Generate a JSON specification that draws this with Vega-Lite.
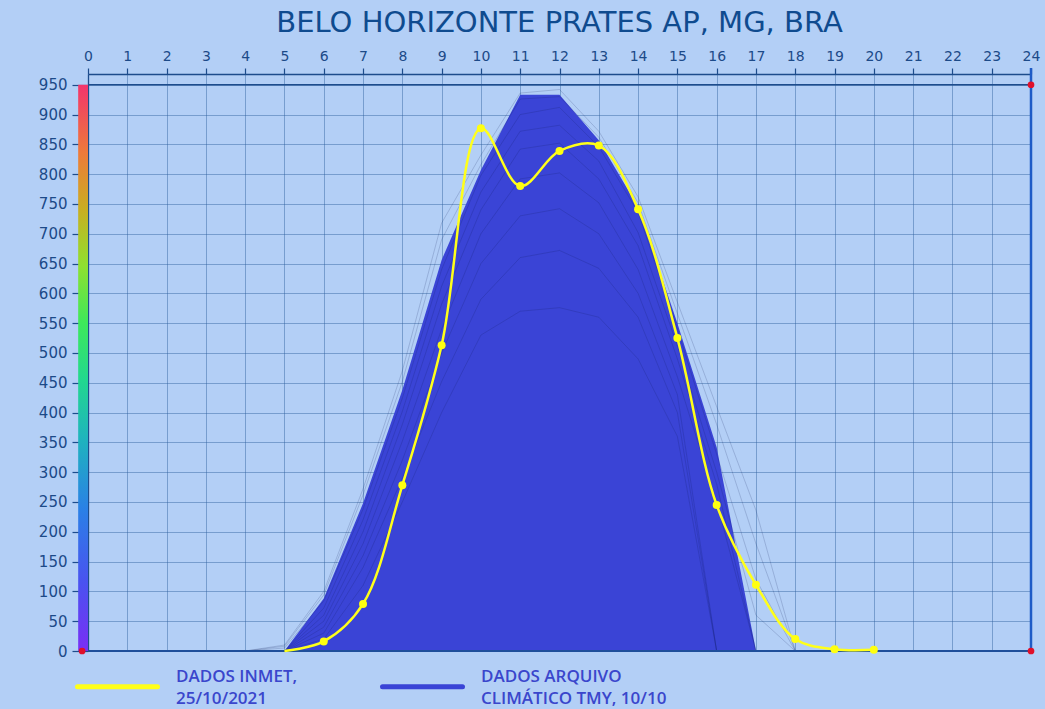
{
  "$schema": "https://vega.github.io/schema/vega-lite/v6.json",
  "width": 943,
  "height": 577,
  "autosize": {"type": "none"},
  "padding": {"left": 88, "top": 74, "right": 14, "bottom": 58},
  "background": "#b3cff6",
  "title": {
    "text": "BELO HORIZONTE PRATES AP, MG, BRA",
    "anchor": "middle",
    "frame": "group",
    "offset": 11,
    "font": "DejaVu Sans",
    "fontSize": 29,
    "fontWeight": "normal",
    "color": "#0f4b8f"
  },
  "datasets": {
    "envelope": [
      {"hour": 4, "ghi": 0, "series": "DADOS ARQUIVO CLIMÁTICO TMY, 10/10"},
      {"hour": 5, "ghi": 0, "series": "DADOS ARQUIVO CLIMÁTICO TMY, 10/10"},
      {"hour": 6, "ghi": 88, "series": "DADOS ARQUIVO CLIMÁTICO TMY, 10/10"},
      {"hour": 7, "ghi": 248, "series": "DADOS ARQUIVO CLIMÁTICO TMY, 10/10"},
      {"hour": 8, "ghi": 438, "series": "DADOS ARQUIVO CLIMÁTICO TMY, 10/10"},
      {"hour": 9, "ghi": 656, "series": "DADOS ARQUIVO CLIMÁTICO TMY, 10/10"},
      {"hour": 10, "ghi": 807, "series": "DADOS ARQUIVO CLIMÁTICO TMY, 10/10"},
      {"hour": 11, "ghi": 933, "series": "DADOS ARQUIVO CLIMÁTICO TMY, 10/10"},
      {"hour": 12, "ghi": 933, "series": "DADOS ARQUIVO CLIMÁTICO TMY, 10/10"},
      {"hour": 13, "ghi": 857, "series": "DADOS ARQUIVO CLIMÁTICO TMY, 10/10"},
      {"hour": 14, "ghi": 745, "series": "DADOS ARQUIVO CLIMÁTICO TMY, 10/10"},
      {"hour": 15, "ghi": 550, "series": "DADOS ARQUIVO CLIMÁTICO TMY, 10/10"},
      {"hour": 16, "ghi": 342, "series": "DADOS ARQUIVO CLIMÁTICO TMY, 10/10"},
      {"hour": 17, "ghi": 0, "series": "DADOS ARQUIVO CLIMÁTICO TMY, 10/10"}
    ],
    "days": [
      {"day": 1, "hour": 4, "ghi": 0}, {"day": 1, "hour": 5, "ghi": 10}, {"day": 1, "hour": 6, "ghi": 100}, {"day": 1, "hour": 7, "ghi": 272}, {"day": 1, "hour": 8, "ghi": 470}, {"day": 1, "hour": 9, "ghi": 718}, {"day": 1, "hour": 10, "ghi": 832}, {"day": 1, "hour": 11, "ghi": 936}, {"day": 1, "hour": 12, "ghi": 942}, {"day": 1, "hour": 13, "ghi": 872}, {"day": 1, "hour": 14, "ghi": 762}, {"day": 1, "hour": 15, "ghi": 585}, {"day": 1, "hour": 16, "ghi": 410}, {"day": 1, "hour": 17, "ghi": 236}, {"day": 1, "hour": 18, "ghi": 0},
      {"day": 2, "hour": 4, "ghi": 0}, {"day": 2, "hour": 5, "ghi": 8}, {"day": 2, "hour": 6, "ghi": 94}, {"day": 2, "hour": 7, "ghi": 262}, {"day": 2, "hour": 8, "ghi": 452}, {"day": 2, "hour": 9, "ghi": 690}, {"day": 2, "hour": 10, "ghi": 816}, {"day": 2, "hour": 11, "ghi": 926}, {"day": 2, "hour": 12, "ghi": 930}, {"day": 2, "hour": 13, "ghi": 862}, {"day": 2, "hour": 14, "ghi": 752}, {"day": 2, "hour": 15, "ghi": 566}, {"day": 2, "hour": 16, "ghi": 380}, {"day": 2, "hour": 17, "ghi": 180}, {"day": 2, "hour": 18, "ghi": 0},
      {"day": 3, "hour": 4, "ghi": 0}, {"day": 3, "hour": 5, "ghi": 5}, {"day": 3, "hour": 6, "ghi": 84}, {"day": 3, "hour": 7, "ghi": 238}, {"day": 3, "hour": 8, "ghi": 424}, {"day": 3, "hour": 9, "ghi": 640}, {"day": 3, "hour": 10, "ghi": 798}, {"day": 3, "hour": 11, "ghi": 900}, {"day": 3, "hour": 12, "ghi": 912}, {"day": 3, "hour": 13, "ghi": 846}, {"day": 3, "hour": 14, "ghi": 736}, {"day": 3, "hour": 15, "ghi": 540}, {"day": 3, "hour": 16, "ghi": 330}, {"day": 3, "hour": 17, "ghi": 120}, {"day": 3, "hour": 18, "ghi": 0},
      {"day": 4, "hour": 4, "ghi": 0}, {"day": 4, "hour": 5, "ghi": 0}, {"day": 4, "hour": 6, "ghi": 72}, {"day": 4, "hour": 7, "ghi": 220}, {"day": 4, "hour": 8, "ghi": 402}, {"day": 4, "hour": 9, "ghi": 612}, {"day": 4, "hour": 10, "ghi": 770}, {"day": 4, "hour": 11, "ghi": 872}, {"day": 4, "hour": 12, "ghi": 882}, {"day": 4, "hour": 13, "ghi": 822}, {"day": 4, "hour": 14, "ghi": 702}, {"day": 4, "hour": 15, "ghi": 512}, {"day": 4, "hour": 16, "ghi": 300}, {"day": 4, "hour": 17, "ghi": 60}, {"day": 4, "hour": 18, "ghi": 0},
      {"day": 5, "hour": 4, "ghi": 0}, {"day": 5, "hour": 5, "ghi": 0}, {"day": 5, "hour": 6, "ghi": 60}, {"day": 5, "hour": 7, "ghi": 200}, {"day": 5, "hour": 8, "ghi": 380}, {"day": 5, "hour": 9, "ghi": 582}, {"day": 5, "hour": 10, "ghi": 740}, {"day": 5, "hour": 11, "ghi": 842}, {"day": 5, "hour": 12, "ghi": 852}, {"day": 5, "hour": 13, "ghi": 792}, {"day": 5, "hour": 14, "ghi": 680}, {"day": 5, "hour": 15, "ghi": 490}, {"day": 5, "hour": 16, "ghi": 280}, {"day": 5, "hour": 17, "ghi": 0},
      {"day": 6, "hour": 4, "ghi": 0}, {"day": 6, "hour": 5, "ghi": 0}, {"day": 6, "hour": 6, "ghi": 50}, {"day": 6, "hour": 7, "ghi": 180}, {"day": 6, "hour": 8, "ghi": 352}, {"day": 6, "hour": 9, "ghi": 540}, {"day": 6, "hour": 10, "ghi": 700}, {"day": 6, "hour": 11, "ghi": 792}, {"day": 6, "hour": 12, "ghi": 802}, {"day": 6, "hour": 13, "ghi": 752}, {"day": 6, "hour": 14, "ghi": 640}, {"day": 6, "hour": 15, "ghi": 460}, {"day": 6, "hour": 16, "ghi": 250}, {"day": 6, "hour": 17, "ghi": 0},
      {"day": 7, "hour": 4, "ghi": 0}, {"day": 7, "hour": 5, "ghi": 0}, {"day": 7, "hour": 6, "ghi": 40}, {"day": 7, "hour": 7, "ghi": 160}, {"day": 7, "hour": 8, "ghi": 320}, {"day": 7, "hour": 9, "ghi": 500}, {"day": 7, "hour": 10, "ghi": 650}, {"day": 7, "hour": 11, "ghi": 730}, {"day": 7, "hour": 12, "ghi": 742}, {"day": 7, "hour": 13, "ghi": 700}, {"day": 7, "hour": 14, "ghi": 600}, {"day": 7, "hour": 15, "ghi": 430}, {"day": 7, "hour": 16, "ghi": 0},
      {"day": 8, "hour": 4, "ghi": 0}, {"day": 8, "hour": 5, "ghi": 0}, {"day": 8, "hour": 6, "ghi": 30}, {"day": 8, "hour": 7, "ghi": 140}, {"day": 8, "hour": 8, "ghi": 290}, {"day": 8, "hour": 9, "ghi": 452}, {"day": 8, "hour": 10, "ghi": 590}, {"day": 8, "hour": 11, "ghi": 660}, {"day": 8, "hour": 12, "ghi": 672}, {"day": 8, "hour": 13, "ghi": 642}, {"day": 8, "hour": 14, "ghi": 560}, {"day": 8, "hour": 15, "ghi": 400}, {"day": 8, "hour": 16, "ghi": 0},
      {"day": 9, "hour": 4, "ghi": 0}, {"day": 9, "hour": 5, "ghi": 0}, {"day": 9, "hour": 6, "ghi": 20}, {"day": 9, "hour": 7, "ghi": 110}, {"day": 9, "hour": 8, "ghi": 250}, {"day": 9, "hour": 9, "ghi": 400}, {"day": 9, "hour": 10, "ghi": 530}, {"day": 9, "hour": 11, "ghi": 570}, {"day": 9, "hour": 12, "ghi": 576}, {"day": 9, "hour": 13, "ghi": 560}, {"day": 9, "hour": 14, "ghi": 490}, {"day": 9, "hour": 15, "ghi": 360}, {"day": 9, "hour": 16, "ghi": 0}
    ],
    "inmet": [
      {"hour": 5, "ghi": 0, "series": "DADOS INMET, 25/10/2021"},
      {"hour": 6, "ghi": 16, "series": "DADOS INMET, 25/10/2021"},
      {"hour": 7, "ghi": 79, "series": "DADOS INMET, 25/10/2021"},
      {"hour": 8, "ghi": 278, "series": "DADOS INMET, 25/10/2021"},
      {"hour": 9, "ghi": 513, "series": "DADOS INMET, 25/10/2021"},
      {"hour": 10, "ghi": 877, "series": "DADOS INMET, 25/10/2021"},
      {"hour": 11, "ghi": 780, "series": "DADOS INMET, 25/10/2021"},
      {"hour": 12, "ghi": 839, "series": "DADOS INMET, 25/10/2021"},
      {"hour": 13, "ghi": 848, "series": "DADOS INMET, 25/10/2021"},
      {"hour": 14, "ghi": 741, "series": "DADOS INMET, 25/10/2021"},
      {"hour": 15, "ghi": 525, "series": "DADOS INMET, 25/10/2021"},
      {"hour": 16, "ghi": 245, "series": "DADOS INMET, 25/10/2021"},
      {"hour": 17, "ghi": 111, "series": "DADOS INMET, 25/10/2021"},
      {"hour": 18, "ghi": 20, "series": "DADOS INMET, 25/10/2021"},
      {"hour": 19, "ghi": 3, "series": "DADOS INMET, 25/10/2021"},
      {"hour": 20, "ghi": 2, "series": "DADOS INMET, 25/10/2021"}
    ],
    "markers": [
      {"hour": -0.15, "ghi": 0},
      {"hour": 24, "ghi": 0},
      {"hour": 24, "ghi": 950}
    ],
    "frame": [{"h0": 0, "h24": 24, "top": 950, "zero": 0, "edge": 978, "bar": -0.25}]
  },
  "config": {
    "view": {"stroke": null},
    "axis": {
      "grid": true,
      "gridColor": "#2e5f9e",
      "gridOpacity": 0.45,
      "gridWidth": 1,
      "domainColor": "#1d4c8c",
      "domainWidth": 1.3,
      "tickColor": "#1d4c8c",
      "tickWidth": 1.2,
      "labelColor": "#1c4a88",
      "labelFont": "DejaVu Sans",
      "labelFontSize": 14,
      "labelOverlap": false,
      "title": null
    },
    "axisX": {"tickSize": 6, "labelPadding": 5, "labelFlush": false},
    "axisY": {"tickSize": 16, "labelPadding": 5, "labelFontSize": 15},
    "legend": {
      "orient": "none",
      "legendX": -13,
      "legendY": 570,
      "direction": "horizontal",
      "padding": 0,
      "symbolType": "stroke",
      "symbolSize": 6400,
      "symbolStrokeWidth": 5,
      "labelFont": "Open Sans",
      "labelFontSize": 17,
      "labelFontWeight": 600,
      "labelColor": "#3a46cc",
      "labelOffset": 16,
      "labelLimit": 400,
      "columnPadding": 74
    }
  },
  "encoding": {
    "x": {
      "field": "hour", "type": "quantitative",
      "scale": {"domain": [0, 24], "nice": false},
      "axis": {"orient": "top", "values": [0,1,2,3,4,5,6,7,8,9,10,11,12,13,14,15,16,17,18,19,20,21,22,23,24]}
    },
    "y": {
      "field": "ghi", "type": "quantitative",
      "scale": {"domain": [0, 968], "nice": false},
      "axis": {"values": [0,50,100,150,200,250,300,350,400,450,500,550,600,650,700,750,800,850,900,950]}
    }
  },
  "layer": [
    {
      "data": {"name": "envelope"},
      "mark": {"type": "area", "interpolate": "linear"},
      "encoding": {
        "y": {"field": "ghi", "type": "quantitative", "stack": null},
        "color": {
          "field": "series", "type": "nominal",
          "scale": {"domain": ["DADOS INMET, 25/10/2021", "DADOS ARQUIVO CLIMÁTICO TMY, 10/10"], "range": ["#ffff1a", "#3a44d6"]},
          "legend": {
            "title": null,
            "labelExpr": "datum.label == 'DADOS INMET, 25/10/2021' ? ['DADOS INMET,', '25/10/2021'] : ['DADOS ARQUIVO', 'CLIMÁTICO TMY, 10/10']",
            "encode": {
              "labels": {"update": {"lineHeight": {"value": 22}, "dy": {"value": -10}}},
              "symbols": {"update": {"strokeCap": {"value": "round"}}}
            }
          }
        }
      }
    },
    {
      "data": {"name": "frame"},
      "mark": {
        "type": "rect",
        "color": {
          "gradient": "linear",
          "x1": 0, "y1": 1, "x2": 0, "y2": 0,
          "stops": [
            {"offset": 0, "color": "#7a2ef5"},
            {"offset": 0.12, "color": "#4a52f0"},
            {"offset": 0.25, "color": "#2a80e6"},
            {"offset": 0.37, "color": "#1fb2bf"},
            {"offset": 0.48, "color": "#22d88e"},
            {"offset": 0.58, "color": "#3ee85a"},
            {"offset": 0.68, "color": "#8fe030"},
            {"offset": 0.78, "color": "#c9ae22"},
            {"offset": 0.88, "color": "#ee7a3a"},
            {"offset": 1, "color": "#f2346c"}
          ]
        }
      },
      "encoding": {
        "x": {"field": "bar", "type": "quantitative"},
        "x2": {"field": "h0"},
        "y": {"field": "zero", "type": "quantitative"},
        "y2": {"field": "top"}
      }
    },
    {
      "data": {"name": "days"},
      "mark": {"type": "line", "stroke": "#0e1650", "strokeWidth": 0.8, "opacity": 0.22},
      "encoding": {
        "detail": {"field": "day", "type": "nominal"}
      }
    },
    {
      "data": {"name": "frame"},
      "mark": {"type": "rule", "stroke": "#1d4c8c", "strokeWidth": 1.6},
      "encoding": {
        "x": {"field": "h0", "type": "quantitative"},
        "x2": {"field": "h24"},
        "y": {"field": "top", "type": "quantitative"}
      }
    },
    {
      "data": {"name": "frame"},
      "mark": {"type": "rule", "stroke": "#1f4f9a", "strokeWidth": 2},
      "encoding": {
        "x": {"field": "h0", "type": "quantitative"},
        "x2": {"field": "h24"},
        "y": {"field": "zero", "type": "quantitative"}
      }
    },
    {
      "data": {"name": "frame"},
      "mark": {"type": "rule", "stroke": "#1e5bc6", "strokeWidth": 2.5},
      "encoding": {
        "x": {"field": "h24", "type": "quantitative"},
        "y": {"field": "zero", "type": "quantitative"},
        "y2": {"field": "edge"}
      }
    },
    {
      "data": {"name": "inmet"},
      "mark": {"type": "line", "interpolate": "catmull-rom", "strokeWidth": 2.5},
      "encoding": {
        "color": {"field": "series", "type": "nominal"}
      }
    },
    {
      "data": {"name": "inmet"},
      "transform": [{"filter": "datum.hour >= 6"}],
      "mark": {"type": "circle", "color": "#ffff10", "size": 64, "opacity": 1}
    },
    {
      "data": {"name": "markers"},
      "mark": {"type": "circle", "color": "#e0102a", "size": 45, "opacity": 1}
    }
  ]
}
